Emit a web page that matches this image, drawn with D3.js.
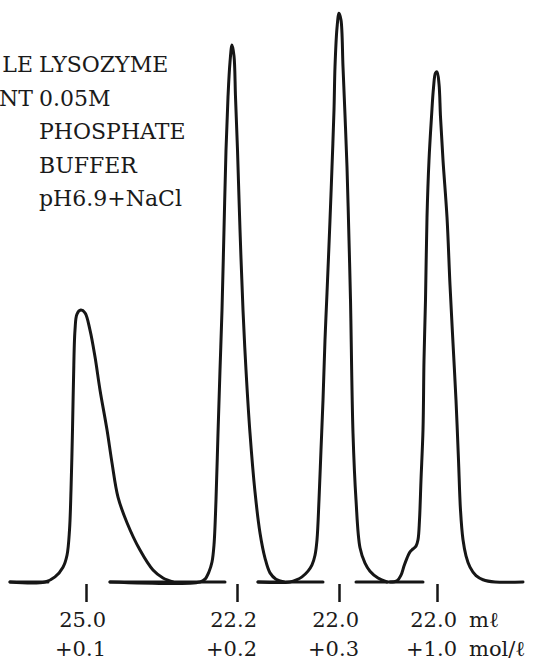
<!DOCTYPE html>
<meta charset="utf-8">
<style>
  body {
    margin: 0;
    background: #fff;
  }

  .trace,
  .base {
    fill: none;
    stroke: #161616;
    stroke-width: 3px;
    stroke-linejoin: round;
    stroke-linecap: round;
  }

  .mark line {
    stroke: #161616;
    stroke-width: 2.5px;
  }

  text {
    font-family: "DejaVu Serif", serif;
    fill: #1a1a1a;
  }
</style>

<body>
  <script src="https://d3js.org/d3.v7.min.js"></script>
  <script>
    // chart paper position (mm) vs absorbance, one run per NaCl step
    var run1 = [
      [5, 0], [22.5, 0], [27.5, 0.009], [31.5, 0.026], [33.5, 0.047], [34.75, 0.091],
      [35.5, 0.161], [36.25, 0.267], [36.75, 0.354], [37.5, 0.442], [38.5, 0.47],
      [40.4, 0.477], [42.5, 0.472], [45, 0.442], [47.5, 0.395], [50, 0.337],
      [53.5, 0.267], [56, 0.209], [59, 0.149], [63.5, 0.104], [70, 0.056],
      [76.5, 0.021], [81.5, 0.007], [86.5, 0]
    ];
    var run2 = [
      [55, 0], [100, 0], [102.5, 0.005], [104.5, 0.018], [106, 0.035], [107, 0.065],
      [108, 0.144], [109, 0.261], [110, 0.372], [111, 0.477], [112, 0.618],
      [113, 0.758], [114, 0.851], [115, 0.912], [116, 0.942], [117, 0.923],
      [117.75, 0.851], [118.75, 0.758], [120, 0.618], [121.5, 0.477], [123, 0.372],
      [125, 0.261], [127.5, 0.158], [130, 0.086], [132.5, 0.042], [135, 0.016],
      [138, 0.005], [142, 0]
    ];
    var run3 = [
      [129, 0], [145, 0], [148.5, 0.004], [151, 0.009], [154, 0.019], [156, 0.03],
      [157.5, 0.047], [158.5, 0.074], [159.5, 0.144], [160.5, 0.232], [161.5, 0.319],
      [162.5, 0.425], [163.5, 0.507], [165, 0.635], [166, 0.728], [167, 0.828],
      [167.5, 0.904], [168.5, 0.972], [169.5, 0.998], [170.5, 0.986], [171.5, 0.904],
      [172.5, 0.819], [173.5, 0.728], [174.5, 0.6], [175.25, 0.495], [176.5, 0.261],
      [178, 0.144], [180, 0.06], [182.5, 0.033], [185, 0.019], [189, 0.007], [193.5, 0]
    ];
    var run4 = [
      [195, 0], [198.5, 0.002], [200.5, 0.012], [202, 0.028], [203.5, 0.042],
      [205, 0.053], [206.5, 0.058], [208, 0.063], [209, 0.074], [209.75, 0.109],
      [210.5, 0.179], [211.5, 0.267], [212, 0.389], [212.75, 0.495], [213.5, 0.64],
      [214.5, 0.74], [215.75, 0.816], [216.75, 0.867], [217.75, 0.893], [218.5, 0.895],
      [219.5, 0.874], [220.25, 0.816], [221.5, 0.74], [223.5, 0.64], [225, 0.521],
      [226.5, 0.419], [228, 0.319], [229.25, 0.214], [230.25, 0.126], [231.5, 0.074],
      [233, 0.046], [235, 0.026], [238, 0.011], [241.5, 0.004], [247.5, 0], [261.5, 0]
    ];

    // baseline strokes drawn under each run [start, end]
    var baselines = [[5, 24], [55, 112.5], [129, 161.5], [178, 211.5]];

    // injection marks and their labels
    var injectAt = [43, 118.5, 169.5, 218.5];
    var volumeLabels = ["25.0", "22.2", "22.0", "22.0"];
    var saltLabels = ["+0.1", "+0.2", "+0.3", "+1.0"];
    var unitLabels = ["m\u2113", "mol/\u2113"];

    // condition notes (the figure is cut off on the left, only the word ends show)
    var noteKeys = ["LE", "NT"];
    var noteValues = ["LYSOZYME", "0.05M", "PHOSPHATE", "BUFFER", "pH6.9+NaCl"];

    var width = 542,
      height = 661;

    var x = d3.scaleLinear().domain([0, 271]).range([0, width]);
    var y = d3.scaleLinear().domain([0, 1]).range([582, 12]);

    var svg = d3.select("body").append("svg")
      .attr("width", width)
      .attr("height", height);

    var trace = d3.line()
      .x(function(d) { return x(d[0]); })
      .y(function(d) { return y(d[1]); })
      .curve(d3.curveCatmullRom.alpha(0.5));

    // baselines
    svg.selectAll(".base")
      .data(baselines)
      .enter().append("line")
      .attr("class", "base")
      .attr("x1", function(d) { return x(d[0]); })
      .attr("x2", function(d) { return x(d[1]); })
      .attr("y1", y(0))
      .attr("y2", y(0));

    // the four elution traces
    svg.selectAll(".trace")
      .data([run1, run2, run3, run4])
      .enter().append("path")
      .attr("class", "trace")
      .attr("d", trace);

    // injection marks
    var marks = svg.append("g")
      .attr("class", "mark")
      .attr("transform", "translate(0," + (y(0) + 2) + ")")
      .call(d3.axisBottom(x).tickValues(injectAt).tickSize(18).tickFormat(""));
    marks.select(".domain").remove();

    // volume / salt labels, right aligned just past each mark
    svg.selectAll(".vol")
      .data(volumeLabels)
      .enter().append("text")
      .attr("class", "vol")
      .attr("x", function(d, i) { return x(injectAt[i]) + 20; })
      .attr("y", 627)
      .attr("text-anchor", "end")
      .style("font-size", "21px")
      .text(function(d) { return d; });

    svg.selectAll(".salt")
      .data(saltLabels)
      .enter().append("text")
      .attr("class", "salt")
      .attr("x", function(d, i) { return x(injectAt[i]) + 20; })
      .attr("y", 656)
      .attr("text-anchor", "end")
      .style("font-size", "21px")
      .text(function(d) { return d; });

    svg.selectAll(".unit")
      .data(unitLabels)
      .enter().append("text")
      .attr("class", "unit")
      .attr("x", x(injectAt[3]) + 32)
      .attr("y", function(d, i) { return 627 + i * 29; })
      .style("font-size", "21px")
      .text(function(d) { return d; });

    // notes
    svg.selectAll(".key")
      .data(noteKeys)
      .enter().append("text")
      .attr("class", "key")
      .attr("x", 33)
      .attr("y", function(d, i) { return 72 + i * 33.6; })
      .attr("text-anchor", "end")
      .style("font-size", "22px")
      .text(function(d) { return d; });

    svg.selectAll(".val")
      .data(noteValues)
      .enter().append("text")
      .attr("class", "val")
      .attr("x", 39)
      .attr("y", function(d, i) { return 72 + i * 33.6; })
      .style("font-size", "22px")
      .text(function(d) { return d; });
  </script>
</body>
